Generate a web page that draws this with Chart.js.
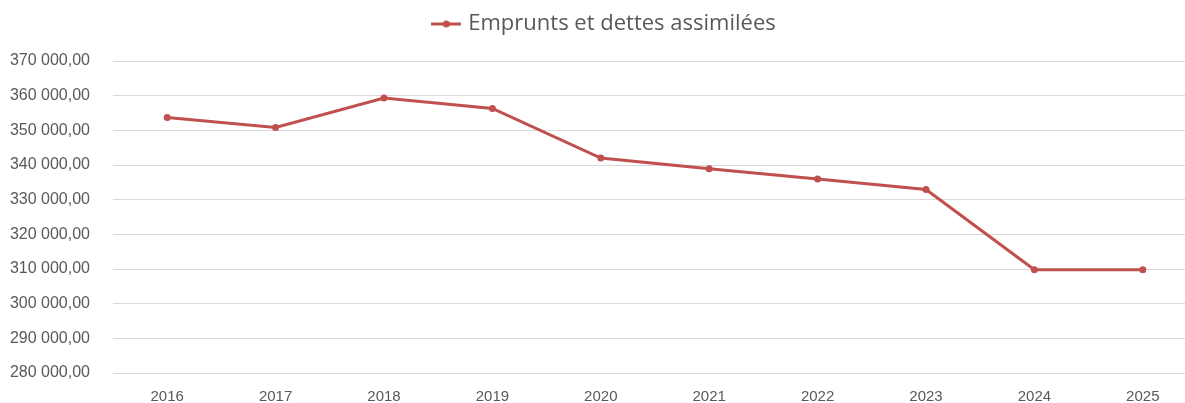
<!DOCTYPE html>
<html>
<head>
<meta charset="utf-8">
<script src="https://cdn.jsdelivr.net/npm/chart.js@4"></script>
<style>
  html, body { margin: 0; padding: 0; background: #fff; overflow: hidden; }
  #wrap { width: 1201px; height: 423px; }
</style>
</head>
<body>
<div id="wrap"><canvas id="chart"></canvas></div>
<script>
const years = ["2016", "2017", "2018", "2019", "2020", "2021", "2022", "2023", "2024", "2025"];
const emprunts = [353700, 350800, 359300, 356300, 342000, 338950, 335950, 332950, 309800, 309800];
const seriesLabel = "Emprunts et dettes assimilées";
const yMin = 280000;
const yMax = 370000;
const yStep = 10000;

const lineColor = "#c0504d";
const textColor = "#595959";

// legend marker: short line with a dot in the middle
function legendMarker() {
    const c = document.createElement("canvas");
    c.width = 30;
    c.height = 10;
    const ctx = c.getContext("2d");
    ctx.strokeStyle = lineColor;
    ctx.lineWidth = 3;
    ctx.beginPath();
    ctx.moveTo(0, 5);
    ctx.lineTo(30, 5);
    ctx.stroke();
    ctx.fillStyle = lineColor;
    ctx.beginPath();
    ctx.arc(15, 5, 3.5, 0, Math.PI * 2);
    ctx.fill();
    return c;
}

function formatFr(v) {
    return Math.round(v).toString().replace(/\B(?=(\d{3})+(?!\d))/g, " ") + ",00";
}

// push the plot area down under the legend
const legendSpace = {
    id: "legendSpace",
    beforeInit(chart) {
        const fit = chart.legend.fit;
        chart.legend.fit = function () {
            fit.bind(chart.legend)();
            this.height += 16;
        };
    },
};

const config = {
    type: "line",
    data: {
        labels: years,
        datasets: [
            {
                label: seriesLabel,
                data: emprunts,
                borderColor: lineColor,
                backgroundColor: lineColor,
                borderWidth: 3,
                pointRadius: 3.5,
                pointBorderWidth: 0,
                pointHoverRadius: 4,
                tension: 0,
            },
        ],
    },
    options: {
        responsive: false,
        animation: false,
        layout: {
            padding: { left: 10, right: 0, top: 4, bottom: 2 },
        },
        plugins: {
            legend: {
                position: "top",
                labels: {
                    usePointStyle: true,
                    pointStyle: legendMarker(),
                    color: textColor,
                    font: { family: "'Open Sans', 'Liberation Sans', sans-serif", size: 22 },
                    padding: 9,
                },
            },
            tooltip: { enabled: false },
        },
        scales: {
            x: {
                offset: true,
                grid: { display: false, drawTicks: false },
                border: { display: false },
                ticks: {
                    color: textColor,
                    font: { family: "'Liberation Sans', sans-serif", size: 15 },
                    padding: 15,
                    maxRotation: 0,
                },
            },
            y: {
                min: yMin,
                max: yMax,
                grid: { color: "#d9d9d9", lineWidth: 1, drawTicks: false },
                border: { display: false },
                afterFit: (scale) => { scale.width = 103; },
                ticks: {
                    stepSize: yStep,
                    color: textColor,
                    font: { family: "'Liberation Sans', sans-serif", size: 16 },
                    padding: 23,
                    callback: (v) => formatFr(v),
                },
            },
        },
    },
    plugins: [legendSpace],
};

const canvas = document.getElementById("chart");
canvas.width = 1201;
canvas.height = 423;
new Chart(canvas, config);
</script>
</body>
</html>
